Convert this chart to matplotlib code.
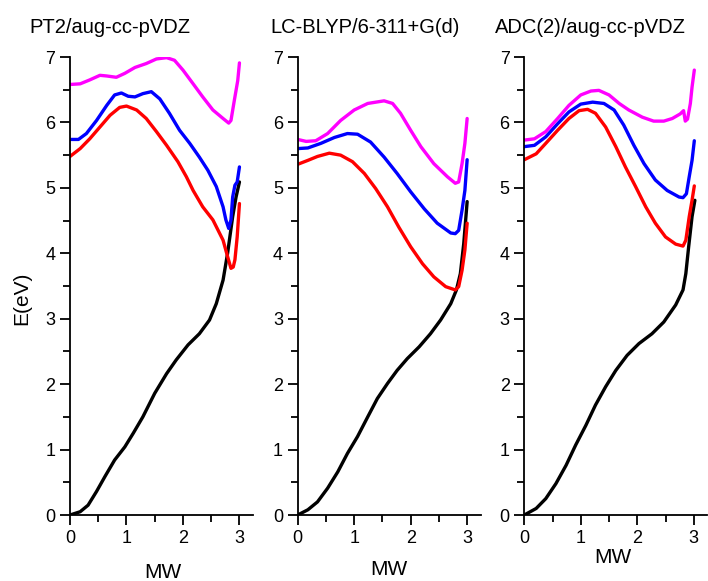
import matplotlib
matplotlib.use("Agg")
import matplotlib.pyplot as plt
from matplotlib.ticker import MultipleLocator

plt.rcParams['font.family'] = ['Liberation Sans', 'DejaVu Sans']

titles = ['PT2/aug-cc-pVDZ', 'LC-BLYP/6-311+G(d)', 'ADC(2)/aug-cc-pVDZ']

# PT2/aug-cc-pVDZ
pt2_black_x = [0, 0.18, 0.32, 0.47, 0.62, 0.79, 0.97, 1.12, 1.29, 1.50, 1.71, 1.88, 2.09, 2.29, 2.47, 2.59, 2.71, 2.79, 2.88, 2.94, 3.0]
pt2_black_y = [0, 0.05, 0.15, 0.36, 0.59, 0.84, 1.04, 1.25, 1.50, 1.86, 2.16, 2.37, 2.60, 2.77, 2.98, 3.23, 3.59, 4.00, 4.56, 4.86, 5.09]
pt2_red_x = [0, 0.18, 0.35, 0.53, 0.71, 0.88, 1.0, 1.18, 1.35, 1.53, 1.71, 1.91, 2.06, 2.18, 2.35, 2.53, 2.71, 2.79, 2.85, 2.89, 2.92, 2.96, 3.0]
pt2_red_y = [5.48, 5.60, 5.75, 5.93, 6.11, 6.23, 6.25, 6.19, 6.06, 5.86, 5.65, 5.40, 5.17, 4.96, 4.71, 4.51, 4.20, 3.95, 3.77, 3.79, 3.90, 4.25, 4.76]
pt2_blue_x = [0, 0.15, 0.29, 0.47, 0.65, 0.79, 0.91, 1.03, 1.15, 1.29, 1.44, 1.59, 1.76, 1.94, 2.12, 2.29, 2.44, 2.59, 2.71, 2.76, 2.81, 2.85, 2.88, 2.92, 2.96, 3.0]
pt2_blue_y = [5.74, 5.74, 5.83, 6.03, 6.26, 6.42, 6.45, 6.40, 6.39, 6.44, 6.47, 6.36, 6.14, 5.88, 5.68, 5.47, 5.27, 5.02, 4.71, 4.51, 4.38, 4.51, 4.86, 5.04, 5.09, 5.32]
pt2_mag_x = [0, 0.18, 0.35, 0.53, 0.65, 0.82, 0.97, 1.15, 1.35, 1.53, 1.71, 1.85, 2.0, 2.18, 2.35, 2.53, 2.71, 2.81, 2.85, 2.91, 2.97, 3.0]
pt2_mag_y = [6.58, 6.59, 6.65, 6.72, 6.71, 6.69, 6.75, 6.84, 6.90, 6.97, 6.99, 6.95, 6.80, 6.59, 6.39, 6.19, 6.06, 5.99, 6.03, 6.34, 6.64, 6.91]

# LC-BLYP/6-311+G(d)
lc_black_x = [0, 0.18, 0.35, 0.53, 0.71, 0.88, 1.06, 1.24, 1.41, 1.59, 1.76, 1.94, 2.15, 2.35, 2.53, 2.71, 2.81, 2.88, 2.94, 3.0]
lc_black_y = [0, 0.08, 0.20, 0.41, 0.66, 0.94, 1.20, 1.50, 1.78, 2.01, 2.21, 2.39, 2.57, 2.77, 2.98, 3.23, 3.44, 3.69, 4.15, 4.79]
lc_red_x = [0, 0.18, 0.35, 0.56, 0.76, 0.97, 1.18, 1.38, 1.59, 1.79, 2.0, 2.21, 2.41, 2.62, 2.79, 2.85, 2.91, 2.96, 3.0]
lc_red_y = [5.36, 5.42, 5.48, 5.53, 5.50, 5.40, 5.22, 4.99, 4.71, 4.40, 4.10, 3.84, 3.64, 3.49, 3.44, 3.49, 3.74, 4.05, 4.46]
lc_blue_x = [0, 0.18, 0.41, 0.65, 0.88, 1.06, 1.29, 1.53, 1.76, 2.0, 2.24, 2.47, 2.71, 2.79, 2.85, 2.91, 2.96, 3.0]
lc_blue_y = [5.60, 5.61, 5.68, 5.77, 5.83, 5.82, 5.70, 5.47, 5.22, 4.94, 4.68, 4.46, 4.31, 4.30, 4.35, 4.66, 4.96, 5.43]
lc_mag_x = [0, 0.15, 0.32, 0.53, 0.76, 1.0, 1.24, 1.53, 1.68, 1.82, 2.0, 2.18, 2.41, 2.65, 2.79, 2.85, 2.91, 2.96, 3.0]
lc_mag_y = [5.74, 5.71, 5.72, 5.83, 6.03, 6.19, 6.29, 6.33, 6.29, 6.14, 5.88, 5.63, 5.37, 5.17, 5.07, 5.09, 5.37, 5.68, 6.06]

# ADC(2)/aug-cc-pVDZ
adc_black_x = [0, 0.21, 0.38, 0.56, 0.74, 0.91, 1.09, 1.26, 1.44, 1.62, 1.82, 2.03, 2.26, 2.47, 2.68, 2.81, 2.86, 2.91, 2.97, 3.02]
adc_black_y = [0, 0.10, 0.25, 0.48, 0.76, 1.07, 1.37, 1.68, 1.96, 2.21, 2.44, 2.62, 2.77, 2.95, 3.21, 3.44, 3.69, 4.10, 4.56, 4.81]
adc_red_x = [0, 0.21, 0.38, 0.59, 0.79, 0.97, 1.12, 1.26, 1.44, 1.62, 1.79, 1.97, 2.15, 2.32, 2.50, 2.68, 2.81, 2.86, 2.92, 2.97, 3.01]
adc_red_y = [5.43, 5.52, 5.68, 5.88, 6.06, 6.18, 6.20, 6.14, 5.93, 5.63, 5.32, 5.02, 4.71, 4.46, 4.25, 4.14, 4.11, 4.20, 4.56, 4.81, 5.03]
adc_blue_x = [0, 0.18, 0.38, 0.59, 0.79, 1.0, 1.21, 1.41, 1.59, 1.76, 1.94, 2.12, 2.32, 2.53, 2.74, 2.81, 2.87, 2.92, 2.97, 3.01]
adc_blue_y = [5.63, 5.65, 5.78, 5.98, 6.16, 6.28, 6.31, 6.29, 6.19, 5.96, 5.65, 5.37, 5.12, 4.96, 4.86, 4.85, 4.91, 5.17, 5.42, 5.72]
adc_mag_x = [0, 0.18, 0.38, 0.59, 0.79, 1.0, 1.18, 1.32, 1.50, 1.68, 1.85, 2.09, 2.29, 2.47, 2.62, 2.76, 2.82, 2.85, 2.89, 2.94, 2.97, 3.01]
adc_mag_y = [5.73, 5.75, 5.86, 6.06, 6.26, 6.42, 6.48, 6.49, 6.42, 6.29, 6.19, 6.08, 6.02, 6.02, 6.06, 6.13, 6.18, 6.02, 6.05, 6.29, 6.54, 6.80]

panels = [
    [(pt2_black_x, pt2_black_y), (pt2_red_x, pt2_red_y), (pt2_blue_x, pt2_blue_y), (pt2_mag_x, pt2_mag_y)],
    [(lc_black_x, lc_black_y), (lc_red_x, lc_red_y), (lc_blue_x, lc_blue_y), (lc_mag_x, lc_mag_y)],
    [(adc_black_x, adc_black_y), (adc_red_x, adc_red_y), (adc_blue_x, adc_blue_y), (adc_mag_x, adc_mag_y)],
]
colors = ['black', '#ff0000', '#0000ff', '#ff00ff']

W, H = 708, 581
fig = plt.figure(figsize=(W / 100, H / 100), dpi=100)

lefts = [70, 297.7, 524.3]
title_x = [110, 365, 590]
mw_x = [163, 389, 613]
mw_base = [578, 575, 563]

for i in range(3):
    ax = fig.add_axes([lefts[i] / W, 66 / H, 183 / W, 458 / H])
    for (xs, ys), c in zip(panels[i], colors):
        ax.plot(xs, ys, color=c, lw=2.4, solid_joinstyle='round', solid_capstyle='round')
    ax.set_xlim(0, 3.24)
    ax.set_ylim(0, 7)
    ax.spines['top'].set_visible(False)
    ax.spines['right'].set_visible(False)
    ax.spines['left'].set_linewidth(1.3)
    ax.spines['bottom'].set_linewidth(1.3)
    ax.xaxis.set_major_locator(MultipleLocator(1))
    ax.xaxis.set_minor_locator(MultipleLocator(0.5))
    ax.yaxis.set_major_locator(MultipleLocator(1))
    ax.yaxis.set_minor_locator(MultipleLocator(0.5))
    ax.tick_params(which='major', direction='out', length=7, width=1.3, labelsize=13, pad=3.5)
    ax.tick_params(which='minor', direction='out', length=5, width=1.3)
    fig.text(title_x[i] / W, 1 - 33 / H, titles[i], ha='center', va='baseline', fontsize=14.5)
    fig.text(mw_x[i] / W, 1 - mw_base[i] / H, 'MW', ha='center', va='baseline', fontsize=15)

fig.text(22 / W, 1 - 298 / H, 'E(eV)', rotation=90, ha='center', va='center', fontsize=15)

fig.savefig('out.png', dpi=100)
